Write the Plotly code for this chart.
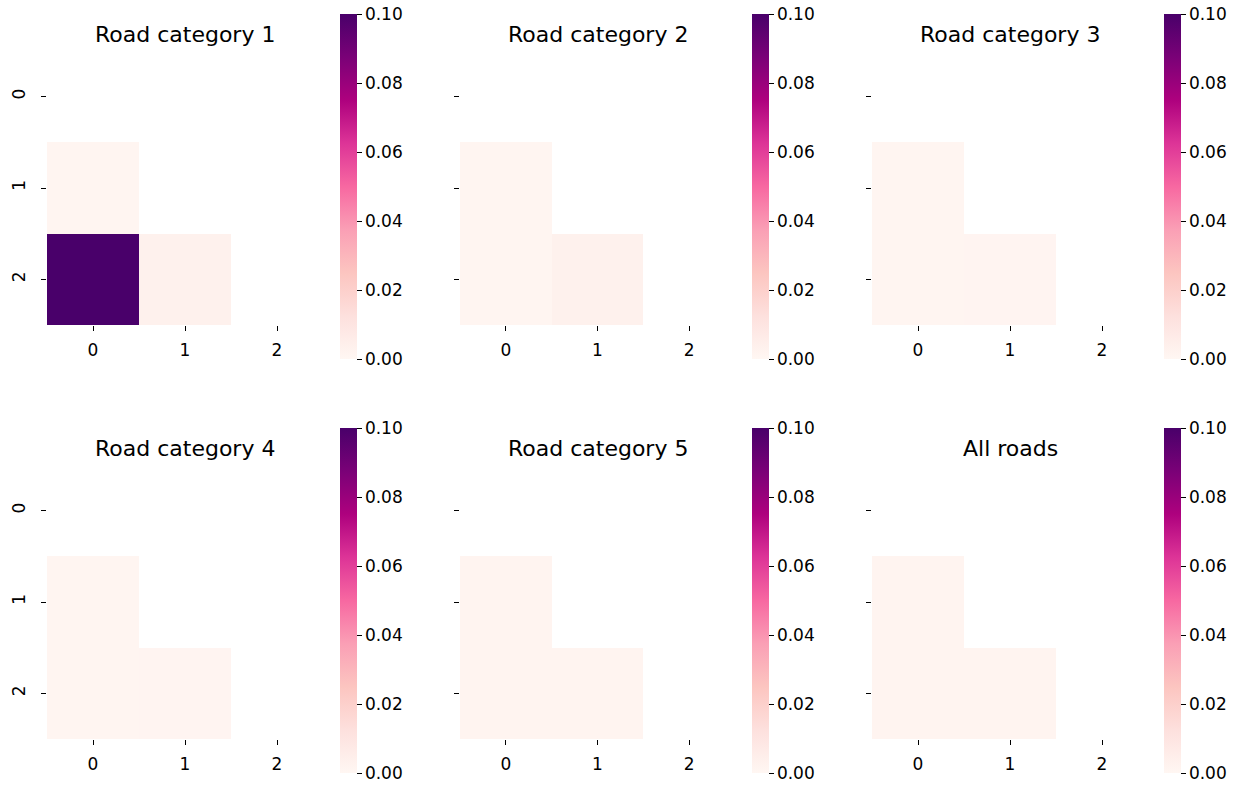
import plotly.graph_objects as go

W, H = 1248, 786

titles = ["Road category 1", "Road category 2", "Road category 3",
          "Road category 4", "Road category 5", "All roads"]
tick_labels = ["0", "1", "2"]

# lower-triangle cell values: (row1,col0), (row2,col0), (row2,col1)
cat1 = [0.0012, 0.1000, 0.0035]
cat2 = [0.0012, 0.0012, 0.0035]
cat3 = [0.0012, 0.0012, 0.0014]
cat4 = [0.0013, 0.0013, 0.0014]
cat5 = [0.0016, 0.0016, 0.0016]
all_roads = [0.0016, 0.0016, 0.0016]
series = [cat1, cat2, cat3, cat4, cat5, all_roads]

cbar_ticks = [0.0, 0.02, 0.04, 0.06, 0.08, 0.10]


def matrix(v):
    return [[None, None, None],
            [v[0], None, None],
            [v[1], v[2], None]]


# pixel layout
col_x = [(47, 323), (460, 735), (872, 1148)]
row_y = [(51, 325), (465, 739)]
cbar_x = [340, 752, 1164]
cbar_y = [(14, 359), (428, 773)]

FONT = "DejaVu Sans"
fig = go.Figure()
for i, (t, v) in enumerate(zip(titles, series)):
    r, c = divmod(i, 3)
    n = i + 1
    xa = "x" if n == 1 else f"x{n}"
    ya = "y" if n == 1 else f"y{n}"
    cy0, cy1 = cbar_y[r]
    fig.add_trace(go.Heatmap(
        z=matrix(v), x=[0, 1, 2], y=[0, 1, 2],
        zmin=0, zmax=0.1, colorscale="RdPu",
        xaxis=xa, yaxis=ya, hoverongaps=False,
        colorbar=dict(
            x=cbar_x[c] / W, xanchor="left", xpad=0, ypad=0,
            y=1 - cy0 / H, yanchor="top",
            len=(cy1 - cy0) / H, lenmode="fraction",
            thickness=17, outlinewidth=0,
            ticks="outside", ticklen=5, tickwidth=1.3, tickcolor="black",
            tickvals=cbar_ticks, tickformat=".2f",
            tickprefix="\u00a0\u00a0\u00a0",
            tickfont=dict(family=FONT, size=17, color="black"),
        ),
    ))
    x0, x1 = col_x[c]
    y0, y1 = row_y[r]
    fig.layout[f"xaxis{'' if n == 1 else n}"] = dict(
        domain=[x0 / W, x1 / W], anchor=ya, range=[-0.5, 2.5],
        showgrid=False, zeroline=False, showline=False,
        ticks="outside", ticklen=5, tickwidth=1.3, tickcolor="black",
        tickvals=[0, 1, 2], ticktext=tick_labels, ticklabelstandoff=5,
        tickfont=dict(family=FONT, size=17, color="black"),
    )
    fig.layout[f"yaxis{'' if n == 1 else n}"] = dict(
        domain=[1 - y1 / H, 1 - y0 / H], anchor=xa, range=[2.5, -0.5],
        showgrid=False, zeroline=False, showline=False,
        ticks="outside", ticklen=5, tickwidth=1.3, tickcolor="black",
        tickvals=[0, 1, 2],
        ticktext=tick_labels if c == 0 else ["", "", ""],
        tickangle=-90, ticklabelstandoff=9,
        tickfont=dict(family=FONT, size=17, color="black"),
    )
    fig.add_annotation(
        text=t, xref="paper", yref="paper",
        x=(x0 + x1) / 2 / W, y=1 - (y0 - 17) / H,
        xanchor="center", yanchor="middle", showarrow=False,
        font=dict(family=FONT, size=22, color="black"),
    )

fig.update_layout(
    width=W, height=H, margin=dict(l=0, r=0, t=0, b=0),
    paper_bgcolor="white", plot_bgcolor="white",
    font=dict(family=FONT, color="black"),
)
fig.write_html("out.html",
               config={"displayModeBar": False},
               post_script="document.body.style.margin='0';"
                           "document.body.style.overflow='hidden';")
